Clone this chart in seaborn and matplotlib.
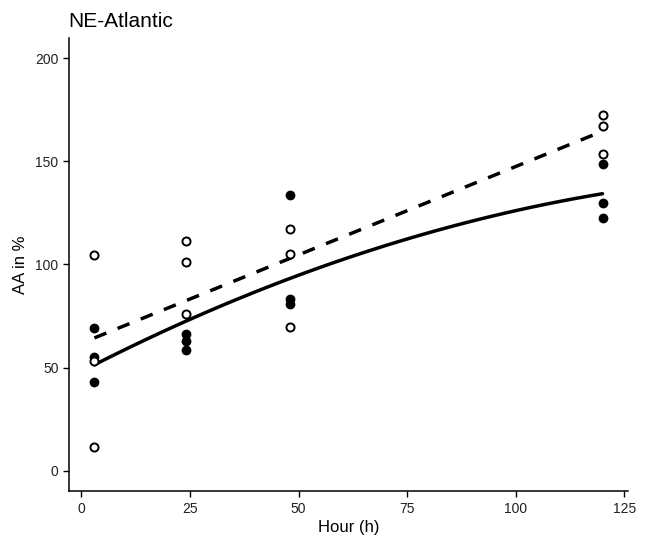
import numpy as np
import pandas as pd
import seaborn as sns
import matplotlib.pyplot as plt

# values
hours_filled = [3, 3, 3, 24, 24, 24, 48, 48, 48, 120, 120, 120]
aa_filled = [69.1, 55.0, 42.9, 66.4, 63.1, 58.3, 133.8, 83.3, 80.9, 148.5, 130.0, 122.7]

hours_open = [3, 3, 3, 24, 24, 24, 48, 48, 48, 120, 120, 120]
aa_open = [104.4, 53.4, 11.7, 111.5, 101.1, 76.2, 117.0, 104.9, 69.9, 172.3, 167.0, 153.7]

X_TICKS = [0, 25, 50, 75, 100, 125]
Y_TICKS = [0, 50, 100, 150, 200]


def build_frame():
    filled = pd.DataFrame({'hour': hours_filled, 'aa': aa_filled, 'group': 'filled'})
    opened = pd.DataFrame({'hour': hours_open, 'aa': aa_open, 'group': 'open'})
    return filled, opened


def main():
    sns.set_theme(style='ticks')
    plt.rcParams['font.family'] = ['Liberation Sans', 'DejaVu Sans']

    filled, opened = build_frame()

    fig = plt.figure(figsize=(6.48, 5.36), dpi=100)
    ax = fig.add_axes([0.1065, 0.0834, 0.8625, 0.8463])

    # fits: quadratic for filled group, linear for open group
    sns.regplot(data=filled, x='hour', y='aa', order=2, ci=None, scatter=False, ax=ax,
                line_kws={'color': 'black', 'lw': 2.5, 'zorder': 2})
    sns.regplot(data=opened, x='hour', y='aa', order=1, ci=None, scatter=False, ax=ax,
                line_kws={'color': 'black', 'lw': 2.5, 'dashes': (3.7, 3.5), 'zorder': 2})

    sns.scatterplot(data=filled, x='hour', y='aa', ax=ax, s=34, color='black',
                    edgecolor='black', linewidth=1.2, zorder=3, legend=False)
    sns.scatterplot(data=opened, x='hour', y='aa', ax=ax, s=34, color='white',
                    edgecolor='black', linewidth=1.4, zorder=3, legend=False)

    ax.set_xlim(-2.85, 125.85)
    ax.set_ylim(-10, 210)
    ax.set_xticks(X_TICKS)
    ax.set_yticks(Y_TICKS)
    ax.tick_params(axis='both', labelsize=10, length=4, width=1, colors='black',
                   labelcolor='#222222')
    for side in ['top', 'right']:
        ax.spines[side].set_visible(False)
    for side in ['left', 'bottom']:
        ax.spines[side].set_linewidth(1.1)
        ax.spines[side].set_color('black')

    ax.set_xlabel('Hour (h)', fontsize=12, labelpad=3, color='black')
    ax.set_ylabel('AA in %', fontsize=12, labelpad=5, color='black')
    ax.set_title('NE-Atlantic', fontsize=15, loc='left', x=-0.002, pad=8, color='black')

    fig.savefig('out.png', dpi=100)


if __name__ == "__main__":
    main()
